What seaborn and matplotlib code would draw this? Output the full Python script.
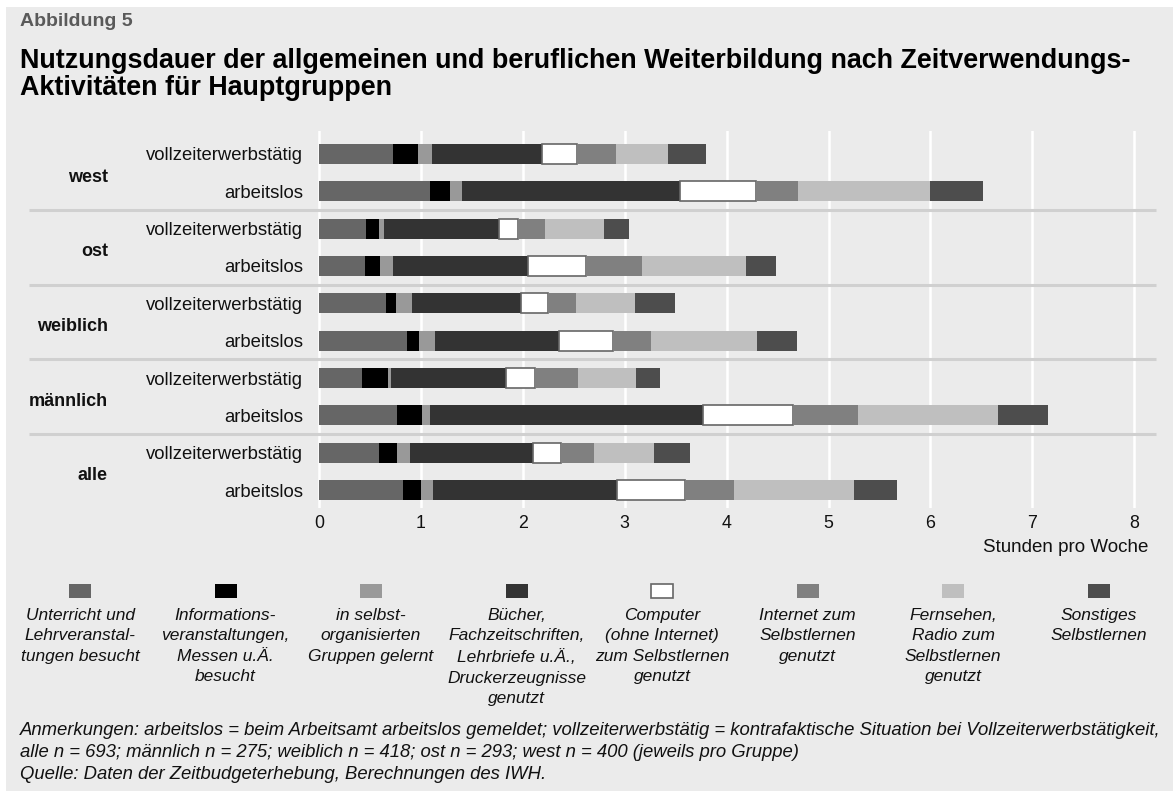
import numpy as np
import pandas as pd
import matplotlib
matplotlib.use("Agg")
import matplotlib.pyplot as plt
from matplotlib.patches import Rectangle
import seaborn as sns

# ---------------- data ----------------
groups = ["west", "ost", "weiblich", "männlich", "alle"]
statuses = ["vollzeiterwerbstätig", "arbeitslos"]
activities = [
    "Unterricht und\nLehrveranstal-\ntungen besucht",
    "Informations-\nveranstaltungen,\nMessen u.Ä.\nbesucht",
    "in selbst-\norganisierten\nGruppen gelernt",
    "Bücher,\nFachzeitschriften,\nLehrbriefe u.Ä.,\nDruckerzeugnisse\ngenutzt",
    "Computer\n(ohne Internet)\nzum Selbstlernen\ngenutzt",
    "Internet zum\nSelbstlernen\ngenutzt",
    "Fernsehen,\nRadio zum\nSelbstlernen\ngenutzt",
    "Sonstiges\nSelbstlernen",
]
# rows: west vz, west al, ost vz, ost al, weiblich vz, weiblich al, männlich vz, männlich al, alle vz, alle al
unterricht = [0.73, 1.09, 0.46, 0.45, 0.66, 0.86, 0.42, 0.77, 0.59, 0.82]
information = [0.24, 0.20, 0.13, 0.15, 0.10, 0.12, 0.255, 0.245, 0.18, 0.18]
gruppen = [0.14, 0.11, 0.05, 0.13, 0.15, 0.16, 0.03, 0.07, 0.12, 0.12]
buecher = [1.08, 2.14, 1.13, 1.32, 1.07, 1.22, 1.13, 2.68, 1.21, 1.80]
computer = [0.34, 0.75, 0.18, 0.57, 0.27, 0.53, 0.28, 0.89, 0.27, 0.67]
internet = [0.385, 0.41, 0.27, 0.55, 0.275, 0.37, 0.43, 0.635, 0.33, 0.48]
fernsehen = [0.51, 1.30, 0.58, 1.02, 0.58, 1.04, 0.57, 1.37, 0.59, 1.18]
sonstiges = [0.37, 0.52, 0.245, 0.29, 0.39, 0.39, 0.23, 0.49, 0.35, 0.42]
series = [unterricht, information, gruppen, buecher, computer, internet, fernsehen, sonstiges]
xticks = [0, 1, 2, 3, 4, 5, 6, 7, 8]

colors = ["#666666", "#000000", "#999999", "#333333", "#ffffff", "#808080", "#bfbfbf", "#4d4d4d"]
edgecolors = [None, None, None, None, "#666666", None, None, None]

# ---------------- table ----------------
row_keys = [f"{g}|{s}" for g in groups for s in statuses]
records = []
for a_i, (act, vals) in enumerate(zip(activities, series)):
    for r_i, key in enumerate(row_keys):
        start = sum(series[k][r_i] for k in range(a_i))
        records.append(dict(row=key, activity=act, value=vals[r_i], start=start, ridx=r_i))
df = pd.DataFrame(records)

# ---------------- figure ----------------
W, H = 1173, 791
fig = plt.figure(figsize=(W / 100, H / 100), dpi=100, facecolor="white")
fig.add_artist(Rectangle((6 / W, 0), 1 - 6 / W, 1 - 7 / H, transform=fig.transFigure,
                         facecolor="#ebebeb", edgecolor="none", zorder=-10))

FONT = "Liberation Sans"
plt.rcParams["font.family"] = [FONT, "DejaVu Sans"]

ax_l, ax_r, ax_t, ax_b = 317.5, 1156, 130.7, 508
ax = fig.add_axes([ax_l / W, 1 - ax_b / H, (ax_r - ax_l) / W, (ax_b - ax_t) / H])
ax.set_facecolor("#ebebeb")
for sp in ax.spines.values():
    sp.set_visible(False)

px_per_unit = 101.9
x_min = -(319 - ax_l) / px_per_unit
x_max = x_min + (ax_r - ax_l) / px_per_unit

for a_i, act in enumerate(activities):
    sub = df[df["activity"] == act]
    n_before = len(ax.patches)
    kw = dict(edgecolor=edgecolors[a_i], linewidth=1.2) if edgecolors[a_i] else dict(linewidth=0)
    sns.barplot(data=sub, x="value", y="row", order=row_keys, orient="h",
                color=colors[a_i], saturation=1, width=0.535, errorbar=None,
                ax=ax, zorder=3, **kw)
    starts = dict(zip(sub["ridx"], sub["start"]))
    for p in ax.patches[n_before:]:
        idx = int(round(p.get_y() + p.get_height() / 2))
        p.set_x(starts[idx])

ax.set_xticks(xticks)
ax.set_xticklabels([str(t) for t in xticks])
ax.grid(axis="x", color="white", linewidth=1.8, zorder=0)
ax.grid(axis="y", visible=False)
ax.set_axisbelow(True)
ax.set_yticks(range(len(row_keys)))
ax.set_yticklabels([s for g in groups for s in statuses], fontsize=13.3, color="#111111")
ax.tick_params(axis="y", length=0, pad=10.5)
ax.tick_params(axis="x", length=0, pad=5, labelsize=12.8, labelcolor="#111111")
ax.set_xlabel("")
ax.set_ylabel("")

# group separators
sep_x0 = (29 - ax_l) / (ax_r - ax_l)
ax.hlines([1.5, 3.5, 5.5, 7.5], sep_x0, 1.0, transform=ax.get_yaxis_transform(),
          colors="#d0d0d0", linewidth=2.2, clip_on=False, zorder=2)

# group labels
gx = (108 - ax_l) / (ax_r - ax_l)
for g_i, g in enumerate(groups):
    ax.text(gx, 2 * g_i + 0.62, g, transform=ax.get_yaxis_transform(), ha="right",
            va="center", fontsize=13, fontweight="bold", color="#111111")

ax.set_xlim(x_min, x_max)
ax.set_ylim(9.482, -0.624)

def fx(x):
    return x / W

def fy(y):
    return 1 - y / H

fig.text(fx(1148), fy(547), "Stunden pro Woche", ha="right", va="center", fontsize=13.5, color="#111111")

# titles
fig.text(fx(20), fy(21), "Abbildung 5", ha="left", va="center", fontsize=14,
         fontweight="bold", color="#5a5a5a")
fig.text(fx(20), fy(61), "Nutzungsdauer der allgemeinen und beruflichen Weiterbildung nach Zeitverwendungs-",
         ha="left", va="center", fontsize=19.4, fontweight="bold", color="#000000")
fig.text(fx(20), fy(88), "Aktivitäten für Hauptgruppen",
         ha="left", va="center", fontsize=19.4, fontweight="bold", color="#000000")

# legend (manual, 8 columns, swatch above label)
for i, (act, c, ec) in enumerate(zip(activities, colors, edgecolors)):
    cx = 80 + i * 145.5
    fig.add_artist(Rectangle((fx(cx - 11), fy(598)), 22 / W, 14 / H, transform=fig.transFigure,
                             facecolor=c, edgecolor=ec if ec else "none", linewidth=1.2))
    fig.text(fx(cx), fy(608), act, ha="center", va="top", fontsize=12.5, style="italic",
             linespacing=1.45, color="#111111")

notes = ("Anmerkungen: arbeitslos = beim Arbeitsamt arbeitslos gemeldet; vollzeiterwerbstätig = kontrafaktische Situation bei Vollzeiterwerbstätigkeit,\n"
         "alle n = 693; männlich n = 275; weiblich n = 418; ost n = 293; west n = 400 (jeweils pro Gruppe)\n"
         "Quelle: Daten der Zeitbudgeterhebung, Berechnungen des IWH.")
fig.text(fx(20), fy(722), notes, ha="left", va="top", fontsize=13.3, style="italic",
         linespacing=1.38, color="#111111")

fig.savefig("out.png", dpi=100, facecolor=fig.get_facecolor())
